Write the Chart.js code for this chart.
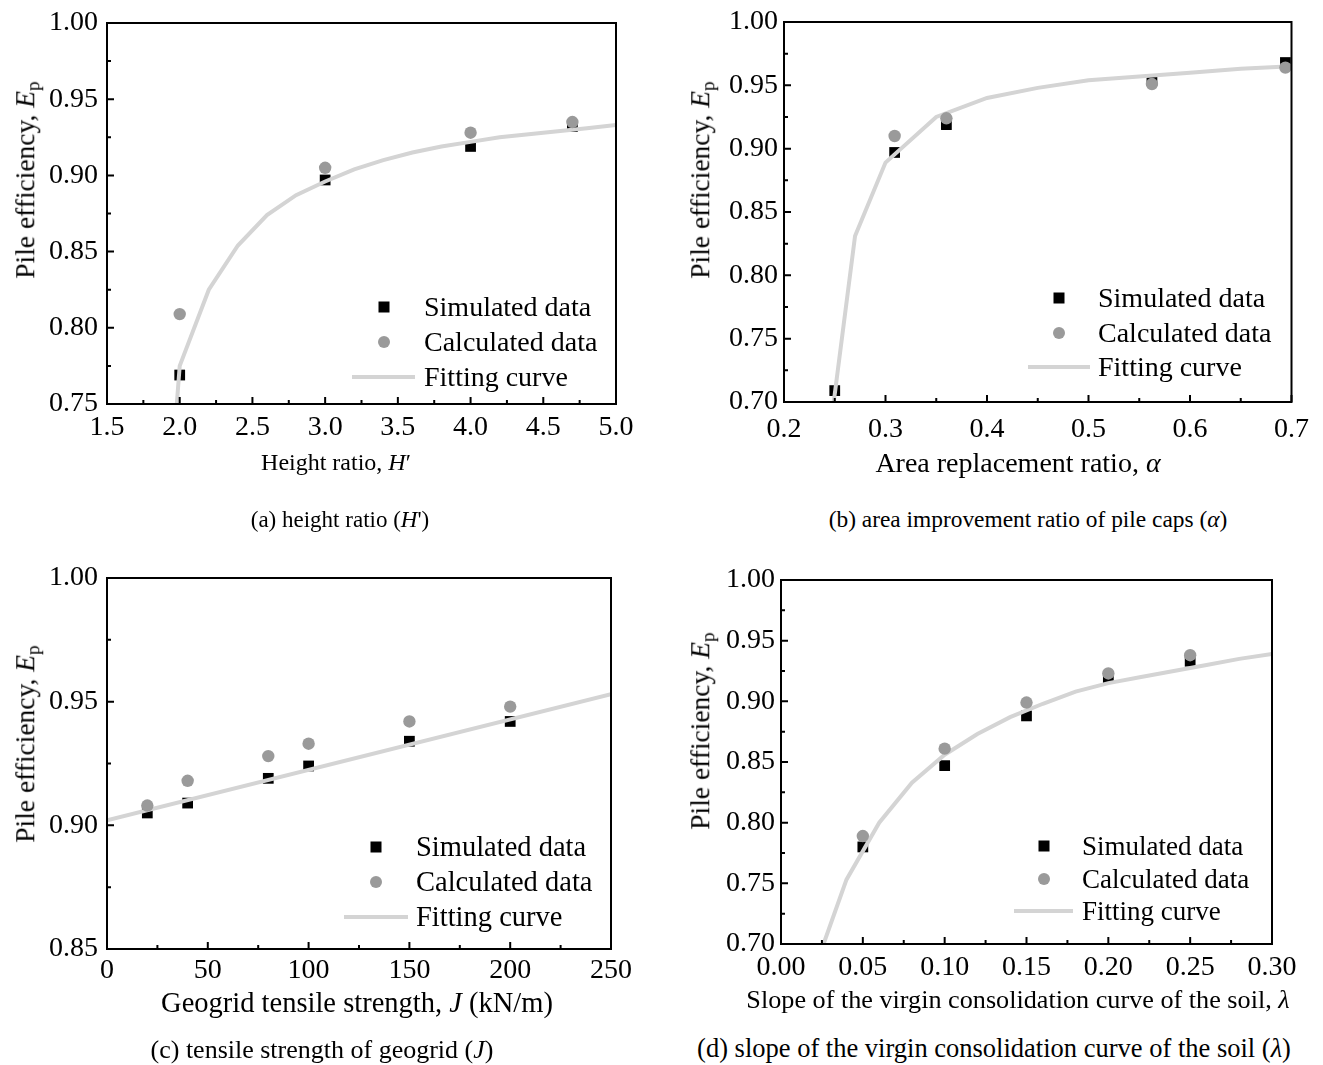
<!DOCTYPE html>
<html><head><meta charset="utf-8">
<script src="https://cdn.jsdelivr.net/npm/chart.js@4.4.0/dist/chart.umd.min.js"></script>
<style>
html,body{margin:0;padding:0;background:#fff}
body{width:1323px;height:1065px;position:relative;overflow:hidden;font-family:"Liberation Serif","Times New Roman",serif;color:#000}
canvas{position:absolute}
.t{position:absolute;white-space:nowrap;transform:translate(-50%,-50%);line-height:1}
.yt{position:absolute;white-space:nowrap;transform:translate(-50%,-50%) rotate(-90deg);line-height:1}
.lt{position:absolute;white-space:nowrap;transform:translateY(-50%);line-height:1}
.mk{position:absolute;transform:translate(-50%,-50%)}
sub{font-size:70%;vertical-align:-0.25em;line-height:0}
</style></head><body>
<canvas id="ca" width="661" height="450" style="left:0;top:0"></canvas>
<canvas id="cb" width="662" height="450" style="left:661px;top:0"></canvas>
<canvas id="cc" width="661" height="455" style="left:0;top:545px"></canvas>
<canvas id="cd" width="662" height="455" style="left:661px;top:545px"></canvas>
<div id="txt"></div>
<script>
// ---------- DATA ----------
// (a) height ratio
const aXTickLabels = ['1.5','2.0','2.5','3.0','3.5','4.0','4.5','5.0'];
const aYTickLabels = ['0.75','0.80','0.85','0.90','0.95','1.00'];
const aSimX = [2.0, 3.0, 4.0, 4.7];
const aSimY = [0.769, 0.897, 0.919, 0.932];
const aCalcX = [2.0, 3.0, 4.0, 4.7];
const aCalcY = [0.809, 0.905, 0.928, 0.935];
const aFitX = [1.98, 2.0, 2.2, 2.4, 2.6, 2.8, 3.0, 3.2, 3.4, 3.6, 3.8, 4.0, 4.2, 4.4, 4.6, 4.8, 5.0];
const aFitY = [0.750, 0.775, 0.825, 0.854, 0.874, 0.887, 0.896, 0.904, 0.910, 0.915, 0.919, 0.922, 0.925, 0.927, 0.929, 0.931, 0.933];

// (b) area replacement ratio
const bXTickLabels = ['0.2','0.3','0.4','0.5','0.6','0.7'];
const bYTickLabels = ['0.70','0.75','0.80','0.85','0.90','0.95','1.00'];
const bSimX = [0.25, 0.309, 0.36, 0.5625, 0.694];
const bSimY = [0.709, 0.897, 0.919, 0.954, 0.968];
const bCalcX = [0.309, 0.36, 0.5625, 0.694];
const bCalcY = [0.910, 0.924, 0.951, 0.964];
const bFitX = [0.249, 0.27, 0.30, 0.35, 0.40, 0.45, 0.50, 0.55, 0.60, 0.65, 0.70];
const bFitY = [0.700, 0.831, 0.889, 0.925, 0.940, 0.948, 0.954, 0.957, 0.960, 0.963, 0.965];

// (c) geogrid tensile strength
const cXTickLabels = ['0','50','100','150','200','250'];
const cYTickLabels = ['0.85','0.90','0.95','1.00'];
const cSimX = [20, 40, 80, 100, 150, 200];
const cSimY = [0.905, 0.909, 0.919, 0.924, 0.934, 0.942];
const cCalcX = [20, 40, 80, 100, 150, 200];
const cCalcY = [0.908, 0.918, 0.928, 0.933, 0.942, 0.948];
const cFitX = [0, 250];
const cFitY = [0.902, 0.953];

// (d) slope of virgin consolidation curve
const dXTickLabels = ['0.00','0.05','0.10','0.15','0.20','0.25','0.30'];
const dYTickLabels = ['0.70','0.75','0.80','0.85','0.90','0.95','1.00'];
const dSimX = [0.05, 0.10, 0.15, 0.20, 0.25];
const dSimY = [0.780, 0.847, 0.888, 0.919, 0.933];
const dCalcX = [0.05, 0.10, 0.15, 0.20, 0.25];
const dCalcY = [0.789, 0.861, 0.899, 0.923, 0.938];
const dFitX = [0.026, 0.04, 0.06, 0.08, 0.10, 0.12, 0.14, 0.16, 0.18, 0.20, 0.22, 0.24, 0.26, 0.28, 0.30];
const dFitY = [0.700, 0.753, 0.800, 0.833, 0.856, 0.873, 0.887, 0.898, 0.908, 0.915, 0.920, 0.925, 0.930, 0.935, 0.939];

const seriesNames = ['Simulated data', 'Calculated data', 'Fitting curve'];

// ---------- STYLE / LAYOUT ----------
const FONT = "'Liberation Serif','Times New Roman',serif";
Chart.defaults.font.family = FONT;
Chart.defaults.color = '#000';
const SIM_COLOR = '#000000', CALC_COLOR = '#9a9a9a', FIT_COLOR = '#d4d4d4';

const panels = [
  { canvas:'ca', box:[0,0,661,450], area:[107,21,616,404], xt:aXTickLabels, yt:aYTickLabels,
    sim:[aSimX,aSimY], calc:[aCalcX,aCalcY], fit:[aFitX,aFitY], xPad:10, yPad:9,
    xTitle:'Height ratio, <i>H</i>′', xTitlePos:[336,462], xTitleSize:24,
    cap:'(a) height ratio (<i>H</i>\')', capPos:[340,519], capSize:23,
    yTitlePos:[25,180], leg:{mx:384, y0:307, dy:35, l0:352, l1:415, tx:424, size:28} },
  { canvas:'cb', box:[661,0,662,450], area:[784,22,1292,402], xt:bXTickLabels, yt:bYTickLabels,
    sim:[bSimX,bSimY], calc:[bCalcX,bCalcY], fit:[bFitX,bFitY], xPad:14, yPad:6,
    xTitle:'Area replacement ratio, <i>α</i>', xTitlePos:[1018,463], xTitleSize:28,
    cap:'(b) area improvement ratio of pile caps (<i>α</i>)', capPos:[1028,520], capSize:23.4,
    yTitlePos:[700,180], leg:{mx:1059, y0:298, dy:34.5, l0:1028, l1:1090, tx:1098, size:28} },
  { canvas:'cc', box:[0,545,661,455], area:[107,578,611,949], xt:cXTickLabels, yt:cYTickLabels,
    sim:[cSimX,cSimY], calc:[cCalcX,cCalcY], fit:[cFitX,cFitY], xPad:8, yPad:9,
    xTitle:'Geogrid tensile strength, <i>J</i> (kN/m)', xTitlePos:[357,1003], xTitleSize:28.5,
    cap:'(c) tensile strength of geogrid (<i>J</i>)', capPos:[322,1050], capSize:26,
    yTitlePos:[25,744], leg:{mx:376, y0:847, dy:35, l0:344, l1:408, tx:416, size:28.5} },
  { canvas:'cd', box:[661,545,662,455], area:[781,580,1272,944], xt:dXTickLabels, yt:dYTickLabels,
    sim:[dSimX,dSimY], calc:[dCalcX,dCalcY], fit:[dFitX,dFitY], xPad:10, yPad:6,
    xTitle:'Slope of the virgin consolidation curve of the soil, <i>λ</i>', xTitlePos:[1018,1000], xTitleSize:26.2,
    cap:'(d) slope of the virgin consolidation curve of the soil (<i>λ</i>)', capPos:[994,1048], capSize:26.5,
    yTitlePos:[700,731], leg:{mx:1044, y0:846, dy:32.5, l0:1014, l1:1073, tx:1082, size:27} }
];

const pts = (xs, ys) => xs.map((x, i) => ({x, y: ys[i]}));

const framePlugin = {
  id: 'frame',
  afterDraw(chart) {
    const {ctx, chartArea: a} = chart;
    ctx.save();
    ctx.strokeStyle = '#000';
    ctx.lineWidth = 2;
    ctx.strokeRect(a.left, a.top, a.right - a.left, a.bottom - a.top);
    const major = 7, minor = 4;
    const xs = chart.scales.x, ys = chart.scales.y;
    const xv = xs.ticks.map(t => t.value), yv = ys.ticks.map(t => t.value);
    ctx.beginPath();
    xv.forEach((v, i) => {
      const p = xs.getPixelForValue(v);
      ctx.moveTo(p, a.bottom); ctx.lineTo(p, a.bottom - major);
      if (i < xv.length - 1) {
        const m = xs.getPixelForValue((v + xv[i + 1]) / 2);
        ctx.moveTo(m, a.bottom); ctx.lineTo(m, a.bottom - minor);
      }
    });
    yv.forEach((v, i) => {
      const p = ys.getPixelForValue(v);
      ctx.moveTo(a.left, p); ctx.lineTo(a.left + major, p);
      if (i < yv.length - 1) {
        const m = ys.getPixelForValue((v + yv[i + 1]) / 2);
        ctx.moveTo(a.left, m); ctx.lineTo(a.left + minor, m);
      }
    });
    ctx.stroke();
    ctx.restore();
  }
};

let html = '';
panels.forEach(P => {
  const [bx, by, bw, bh] = P.box;
  const [L, T, R, B] = P.area;
  const xVals = P.xt.map(Number), yVals = P.yt.map(Number);
  new Chart(document.getElementById(P.canvas), {
    type: 'scatter',
    data: {
      datasets: [
        { label: seriesNames[0], data: pts(P.sim[0], P.sim[1]), pointStyle: 'rect', pointRadius: 7.6,
          backgroundColor: SIM_COLOR, borderWidth: 0, order: 3, clip: false },
        { label: seriesNames[2], data: pts(P.fit[0], P.fit[1]), showLine: true, pointRadius: 0,
          borderColor: FIT_COLOR, borderWidth: 4, tension: 0, order: 2, fill: false },
        { label: seriesNames[1], data: pts(P.calc[0], P.calc[1]), pointStyle: 'circle', pointRadius: 6.2,
          backgroundColor: CALC_COLOR, borderWidth: 0, order: 1, clip: false }
      ]
    },
    options: {
      responsive: false, animation: false, events: [], devicePixelRatio: 1,
      layout: { padding: { left: 0, top: T - by, right: bx + bw - R, bottom: 0 } },
      plugins: { legend: { display: false }, tooltip: { enabled: false } },
      scales: {
        x: {
          type: 'linear', min: xVals[0], max: xVals[xVals.length - 1],
          afterBuildTicks: s => { s.ticks = xVals.map(v => ({ value: v })); },
          afterFit: s => { s.height = by + bh - B; },
          ticks: { autoSkip: false, maxRotation: 0, minRotation: 0, padding: P.xPad,
            font: { size: 28, lineHeight: 1 }, color: '#000',
            callback: (v, i) => P.xt[i] },
          grid: { display: false, drawTicks: false, drawOnChartArea: false },
          border: { display: false }
        },
        y: {
          type: 'linear', min: yVals[0], max: yVals[yVals.length - 1],
          afterBuildTicks: s => { s.ticks = yVals.map(v => ({ value: v })); },
          afterFit: s => { s.width = L - bx; },
          ticks: { autoSkip: false, padding: P.yPad, font: { size: 28, lineHeight: 1 }, color: '#000',
            callback: (v, i) => P.yt[i] },
          grid: { display: false, drawTicks: false, drawOnChartArea: false },
          border: { display: false }
        }
      }
    },
    plugins: [framePlugin]
  });

  html += `<div class="t" style="left:${P.xTitlePos[0]}px;top:${P.xTitlePos[1]}px;font-size:${P.xTitleSize}px">${P.xTitle}</div>`;
  html += `<div class="t" style="left:${P.capPos[0]}px;top:${P.capPos[1]}px;font-size:${P.capSize}px">${P.cap}</div>`;
  html += `<div class="yt" style="left:${P.yTitlePos[0]}px;top:${P.yTitlePos[1]}px;font-size:27.5px">Pile efficiency, <i>E</i><sub>p</sub></div>`;
  const g = P.leg;
  html += `<div class="mk" style="left:${g.mx}px;top:${g.y0}px;width:11px;height:11px;background:${SIM_COLOR}"></div>`;
  html += `<div class="mk" style="left:${g.mx}px;top:${g.y0 + g.dy}px;width:12px;height:12px;border-radius:50%;background:${CALC_COLOR}"></div>`;
  html += `<div style="position:absolute;left:${g.l0}px;top:${g.y0 + 2 * g.dy - 2}px;width:${g.l1 - g.l0}px;height:4px;background:${FIT_COLOR}"></div>`;
  seriesNames.forEach((n, i) => {
    html += `<div class="lt" style="left:${g.tx}px;top:${g.y0 + i * g.dy}px;font-size:${g.size}px">${n}</div>`;
  });
});
document.getElementById('txt').innerHTML = html;
</script>
</body></html>
